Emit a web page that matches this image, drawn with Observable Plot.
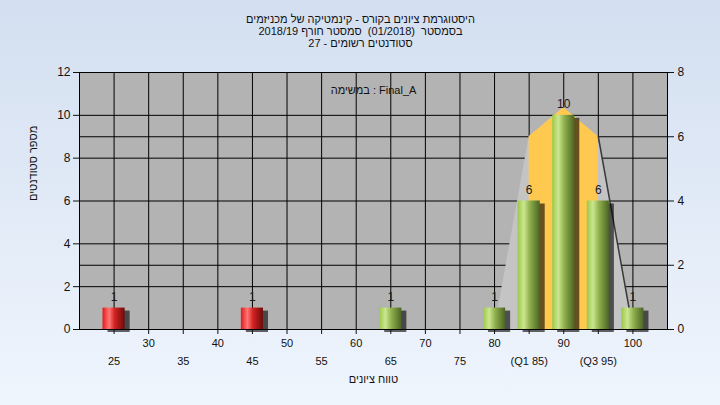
<!DOCTYPE html>
<html><head><meta charset="utf-8">
<script src="https://cdn.jsdelivr.net/npm/d3@7"></script>
<script src="https://cdn.jsdelivr.net/npm/@observablehq/plot@0.6"></script>
<style>
html,body{margin:0;padding:0}
body{width:720px;height:405px;background:linear-gradient(#d3dff0,#eff5fd);overflow:hidden}
#chart svg{display:block;background:transparent}
</style></head><body><div id="chart"></div>
<script>
// ---- data ----
const titleLines = [
  "היסטוגרמת ציונים בקורס - קינמטיקה של מכניזמים",
  "בסמסטר  (01/2018)  סמסטר חורף 2018/19",
  "סטודנטים רשומים - 27"
];
const taskLabel = "במשימה : Final_A";
const xTitle = "טווח ציונים";
const yTitle = "מספר סטודנטים";

const grades = [25, 45, 65, 80, 85, 90, 95, 100];
const counts = [1, 1, 1, 1, 6, 10, 6, 1];
const passing = [false, false, true, true, true, true, true, true];

const curveGrades = [80, 85, 90, 95, 100];
const curveValues = [0, 9, 10.35, 9, 0];
const q1 = 85, q3 = 95;

const xTicksUpper = [30, 40, 50, 60, 70, 80, 90, 100];
const xTicksLower = [25, 35, 45, 55, 65, 75, 85, 95];
const xLabelsLower = ["25", "35", "45", "55", "65", "75", "(Q1 85)", "(Q3 95)"];
const xGrid = [25, 30, 35, 40, 45, 50, 55, 60, 65, 70, 75, 80, 85, 90, 95, 100];
const leftTicks = [0, 2, 4, 6, 8, 10, 12];
const rightTicks = [0, 2, 4, 6, 8];
const rightMax = 8, leftMax = 12;

// ---- derived tables ----
const bars = grades.map((g, i) => ({grade: g, count: counts[i], pass: passing[i]}));
const curve = curveGrades.map((g, i) => ({grade: g, value: curveValues[i]}));
const ratio = leftMax / rightMax;
const hGrid = Array.from(new Set([...leftTicks, ...rightTicks.map(r => r * ratio)]))
  .filter(v => v > 0 && v < leftMax).sort((a, b) => a - b);
const halfW = 1.6;

const font = "'Liberation Sans', Arial, sans-serif";
const fs = 11;

const chart = Plot.plot({
  width: 720, height: 405,
  marginLeft: 79, marginRight: 53, marginTop: 72, marginBottom: 76,
  style: {background: "transparent", fontFamily: font, fontSize: "11px", color: "#111", overflow: "visible"},
  x: {domain: [20, 105]},
  y: {domain: [0, leftMax]},
  marks: [
    Plot.frame({fill: "#b3b3b3", stroke: null}),
    Plot.ruleY(hGrid, {stroke: "#000", strokeWidth: 1}),
    Plot.ruleX(xGrid, {stroke: "#000", strokeWidth: 1}),
    Plot.areaY(curve, {x: "grade", y: "value", fill: "#c4c4c4"}),
    Plot.areaY(curve.filter(d => d.grade >= q1 && d.grade <= q3), {x: "grade", y: "value", fill: "#ffc94f"}),
    Plot.line(curve.filter(d => d.grade >= q3), {x: "grade", y: "value", stroke: "#3a3a3a", strokeWidth: 1.5}),
    Plot.rectY(bars, {x1: d => d.grade - halfW, x2: d => d.grade + halfW, y: "count", fill: "#000", fillOpacity: 0.6, dx: 5, dy: 3, ariaLabel: "shadow"}),
    Plot.rectY(bars.filter(d => !d.pass), {x1: d => d.grade - halfW, x2: d => d.grade + halfW, y: "count", fill: "url(#gRed)"}),
    Plot.rectY(bars.filter(d => d.pass), {x1: d => d.grade - halfW, x2: d => d.grade + halfW, y: "count", fill: "url(#gGreen)"}),
    Plot.text(bars, {x: "grade", y: "count", text: d => String(d.count), dy: -11, fontSize: 12, fill: "#1a1a1a"}),
    Plot.frame({stroke: "#000"}),
    Plot.axisY({ticks: leftTicks, tickSize: 6, tickPadding: 3, label: null, fontSize: 12, anchor: "left"}),
    Plot.axisY({ticks: rightTicks.map(r => r * ratio), tickFormat: d => String(d / ratio), tickSize: 6, tickPadding: 4, label: null, fontSize: 12, anchor: "right"}),
    Plot.axisX({ticks: xGrid, tickSize: 5, tickFormat: () => "", label: null}),
    Plot.text(xTicksUpper, {x: d => d, text: d => String(d), frameAnchor: "bottom", dy: 17, fontSize: fs, fill: "#111"}),
    Plot.text(xTicksLower, {x: d => d, text: (d, i) => xLabelsLower[i], frameAnchor: "bottom", dy: 35, fontSize: fs, fill: "#111"}),
    Plot.text([xTitle], {text: d => d, frameAnchor: "bottom", dy: 53, fontSize: fs, fill: "#111"}),
    Plot.text([yTitle], {text: d => d, frameAnchor: "left", rotate: -90, dx: -46, fontSize: fs, fill: "#111"}),
    Plot.text([taskLabel], {text: d => d, frameAnchor: "top", dy: 14, fontSize: fs, fill: "#111"}),
    Plot.text([titleLines.join("\n")], {text: d => d, frameAnchor: "top", lineAnchor: "top", lineHeight: 1.08, dx: -13, dy: -58, fontSize: fs, fill: "#111", ariaLabel: "title"})
  ]
});

const svg = d3.select(chart);
svg.insert("defs", ":first-child").html(`
  <linearGradient id="gGreen" x1="0" x2="1" y1="0" y2="0">
    <stop offset="0" stop-color="#9cc848"/>
    <stop offset="0.28" stop-color="#cbe690"/>
    <stop offset="0.55" stop-color="#8fb04c"/>
    <stop offset="1" stop-color="#4b6526"/>
  </linearGradient>
  <linearGradient id="gRed" x1="0" x2="1" y1="0" y2="0">
    <stop offset="0" stop-color="#e41818"/>
    <stop offset="0.3" stop-color="#ff7676"/>
    <stop offset="0.55" stop-color="#d42020"/>
    <stop offset="1" stop-color="#6a0c0c"/>
  </linearGradient>
  <filter id="blur" x="-50%" y="-50%" width="200%" height="200%">
    <feGaussianBlur stdDeviation="2.2"/>
  </filter>`);
svg.selectAll("g").filter(function() { return this.getAttribute("aria-label") === "shadow"; }).attr("filter", "url(#blur)");
svg.selectAll("g").filter(function() { return this.getAttribute("aria-label") === "title"; }).selectAll("text").attr("direction", "rtl");
document.getElementById("chart").appendChild(chart);
</script>
</body></html>
